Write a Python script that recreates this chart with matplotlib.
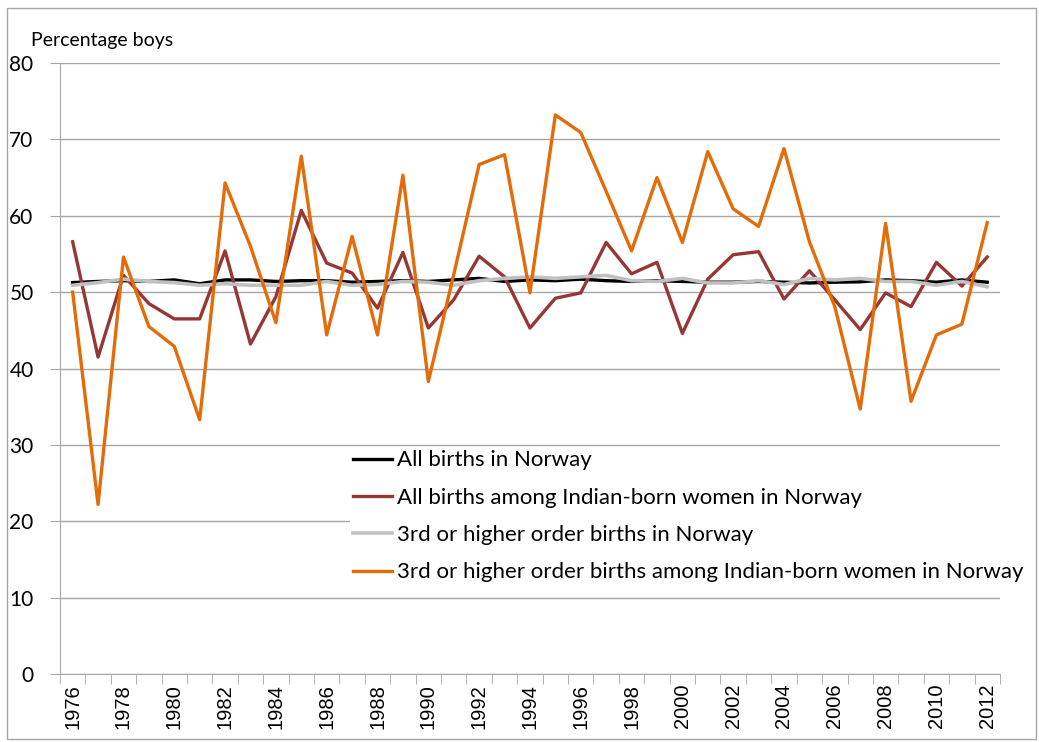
import numpy as np
import matplotlib
matplotlib.use("Agg")
import matplotlib.pyplot as plt
from matplotlib.patches import Rectangle

plt.rcParams['font.family'] = ['Lato', 'DejaVu Sans']

# data
years = list(range(1976, 2013))
all_norway = [51.25, 51.4, 51.5, 51.4, 51.6, 51.1, 51.6, 51.6, 51.4, 51.5, 51.5,
              51.3, 51.4, 51.5, 51.4, 51.6, 51.8, 51.4, 51.6, 51.5, 51.7, 51.5,
              51.4, 51.5, 51.4, 51.3, 51.3, 51.4, 51.3, 51.2, 51.3, 51.35, 51.6,
              51.5, 51.3, 51.6, 51.3]
all_indian = [56.6, 41.5, 52.2, 48.5, 46.5, 46.5, 55.4, 43.2, 49.4, 60.7, 53.8,
              52.5, 47.9, 55.2, 45.3, 49.0, 54.7, 52.0, 45.3, 49.2, 49.9, 56.5,
              52.4, 53.9, 44.6, 51.7, 54.9, 55.3, 49.1, 52.8, 49.0, 45.1, 49.9,
              48.1, 53.9, 50.8, 54.6]
third_norway = [50.9, 51.25, 51.7, 51.4, 51.25, 50.9, 51.1, 50.9, 50.9, 50.9, 51.4,
                50.9, 51.0, 51.4, 51.3, 50.9, 51.5, 51.8, 52.0, 51.8, 52.0, 52.2,
                51.5, 51.4, 51.8, 51.2, 51.2, 51.5, 51.0, 51.8, 51.6, 51.8, 51.4,
                51.4, 50.9, 51.4, 50.7]
third_indian = [50.0, 22.2, 54.6, 45.5, 42.9, 33.3, 64.3, 56.0, 46.0, 67.8, 44.4,
                57.3, 44.4, 65.3, 38.3, 52.3, 66.7, 68.0, 49.9, 73.2, 70.9, 63.2,
                55.4, 65.0, 56.5, 68.4, 60.9, 58.6, 68.8, 56.6, 48.1, 34.7, 59.0,
                35.7, 44.4, 45.8, 59.1]

labels = ["All births in Norway",
          "All births among Indian-born women in Norway",
          "3rd or higher order births in Norway",
          "3rd or higher order births among Indian-born women in Norway"]

fig = plt.figure(figsize=(10.39, 7.42), dpi=100)
ax = fig.add_axes([0.0577, 0.0916, 0.9047, 0.8235])

x = np.arange(len(years))
ax.plot(x, all_norway, color='black', lw=2.4, label=labels[0])
ax.plot(x, all_indian, color='#953735', lw=2.4, label=labels[1])
ax.plot(x, third_norway, color='#c0c0c0', lw=2.6, label=labels[2])
ax.plot(x, third_indian, color='#e36c09', lw=2.4, label=labels[3])

ax.set_xlim(-0.5, len(years) - 0.5)
ax.set_ylim(0, 80)
ax.set_yticks(range(0, 81, 10))
ax.yaxis.grid(True, color='#a6a6a6', lw=1)
ax.set_axisbelow(True)

ax.set_xticks(x[::2])
ax.set_xticklabels([str(y) for y in years[::2]], rotation=90, fontsize=14.5,
                   family=['Liberation Sans', 'DejaVu Sans'])
ax.set_xticks(np.arange(-0.5, len(years), 1), minor=True)
ax.tick_params(axis='x', which='major', length=0, pad=7)
ax.tick_params(axis='x', which='minor', length=7, color='#a6a6a6')
ax.tick_params(axis='y', length=7, color='#a6a6a6', labelsize=15, pad=12)

for s in ['top', 'right']:
    ax.spines[s].set_visible(False)
for s in ['left', 'bottom']:
    ax.spines[s].set_color('#a6a6a6')

fig.text(0.030, 0.946, "Percentage boys", fontsize=14, va='center')

leg = fig.legend(loc='upper left', bbox_to_anchor=(0.337, 0.3976), fontsize=16,
                 frameon=True, fancybox=False, edgecolor='none', facecolor='white',
                 framealpha=1, handlelength=1.75, handletextpad=0.2,
                 labelspacing=0.78, borderpad=0.15, borderaxespad=0)

fig.patches.append(Rectangle((0.007, 0.004), 0.99, 0.985, transform=fig.transFigure,
                             fill=False, edgecolor='#a6a6a6', lw=1, zorder=10))

fig.savefig("out.png", dpi=100)
